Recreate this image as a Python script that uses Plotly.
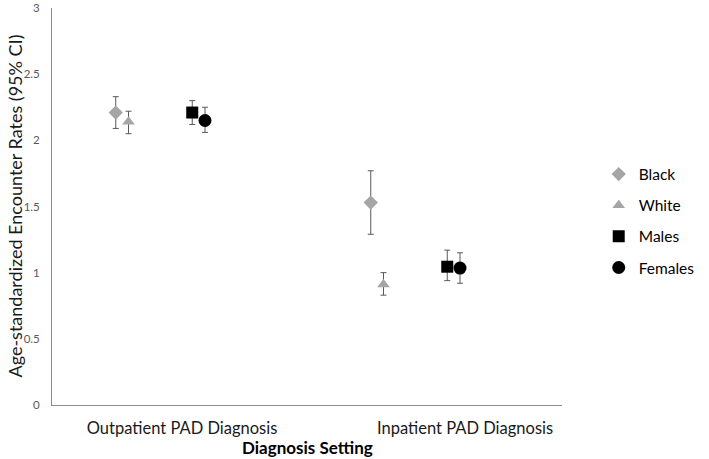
import plotly.graph_objects as go

# Data
categories = ["Outpatient PAD Diagnosis", "Inpatient PAD Diagnosis"]
series_names = ["Black", "White", "Males", "Females"]
black_vals = [2.21, 1.53]
black_lo = [2.09, 1.29]
black_hi = [2.33, 1.77]
white_vals = [2.14, 0.91]
white_lo = [2.05, 0.83]
white_hi = [2.22, 1.00]
males_vals = [2.21, 1.045]
males_lo = [2.12, 0.94]
males_hi = [2.30, 1.17]
females_vals = [2.15, 1.035]
females_lo = [2.06, 0.92]
females_hi = [2.25, 1.15]
y_ticks = [0, 0.5, 1, 1.5, 2, 2.5, 3]
y_tick_labels = ["0", "0.5", "1", "1.5", "2", "2.5", "3"]
x_title = "Diagnosis Setting"
y_title = "Age-standardized Encounter Rates (95% CI)"

# category base positions and per-series horizontal offsets (layout only)
cat_pos = [1, 2]
offsets = {"Black": 0.0, "White": 0.05, "Males": 0.30, "Females": 0.35}
label_pos = [1.26, 2.37]

styles = {
    "Black": dict(symbol="diamond", color="#A5A5A5", size=11),
    "White": dict(symbol="triangle-up", color="#A5A5A5", size=11),
    "Males": dict(symbol="square", color="#000000", size=12),
    "Females": dict(symbol="circle", color="#000000", size=13),
}
data = {
    "Black": (black_vals, black_lo, black_hi),
    "White": (white_vals, white_lo, white_hi),
    "Males": (males_vals, males_lo, males_hi),
    "Females": (females_vals, females_lo, females_hi),
}

fig = go.Figure()
for name in series_names:
    vals, lo, hi = data[name]
    st = styles[name]
    fig.add_trace(go.Scatter(
        x=[c + offsets[name] for c in cat_pos],
        y=vals,
        mode="markers",
        name=name,
        legendgroup=name,
        marker=dict(symbol=st["symbol"], color=st["color"], size=st["size"]),
        error_y=dict(
            type="data", symmetric=False,
            array=[h - v for h, v in zip(hi, vals)],
            arrayminus=[v - l for v, l in zip(vals, lo)],
            color="#595959", thickness=1, width=3,
        ),
    ))

font_family = "Lato, Open Sans, sans-serif"
fig.update_layout(
    width=709, height=459,
    margin=dict(l=52, r=147, t=8, b=54),
    paper_bgcolor="white", plot_bgcolor="white",
    font=dict(family=font_family, color="#404040"),
    showlegend=True,
    legend=dict(
        x=1.072, xanchor="left", y=0.4635, yanchor="middle",
        font=dict(size=15.5, color="#000000"),
        tracegroupgap=8,
        itemwidth=30,
        borderwidth=0,
    ),
    xaxis=dict(
        range=[0.75, 2.75],
        automargin=False,
        showgrid=False, zeroline=False,
        showline=True, linecolor="#8C8C8C", linewidth=1,
        tickvals=label_pos, ticktext=categories,
        tickfont=dict(size=16.5, color="#1a1a1a"),
        ticks="outside", ticklen=8, tickcolor="rgba(0,0,0,0)",
    ),
    yaxis=dict(
        range=[0, 3],
        automargin=False,
        showgrid=False, zeroline=False,
        showline=True, linecolor="#8C8C8C", linewidth=1,
        tickvals=y_ticks, ticktext=y_tick_labels,
        tickfont=dict(size=11.5, color="#595959"),
        ticks="outside", ticklen=9, tickcolor="rgba(0,0,0,0)",
    ),
    annotations=[
        dict(text="<b>" + x_title + "</b>", xref="paper", yref="paper",
             x=0.5, y=-42 / 397, xanchor="center", yanchor="middle", showarrow=False,
             font=dict(size=17, color="#000000")),
        dict(text=y_title, xref="paper", yref="paper",
             x=-38 / 510, y=0.5, xanchor="center", yanchor="middle", showarrow=False,
             textangle=-90, font=dict(size=18, color="#1a1a1a")),
    ],
)

fig.write_html("out.html", config={"displayModeBar": False},
               post_script="document.body.style.margin='0';")
